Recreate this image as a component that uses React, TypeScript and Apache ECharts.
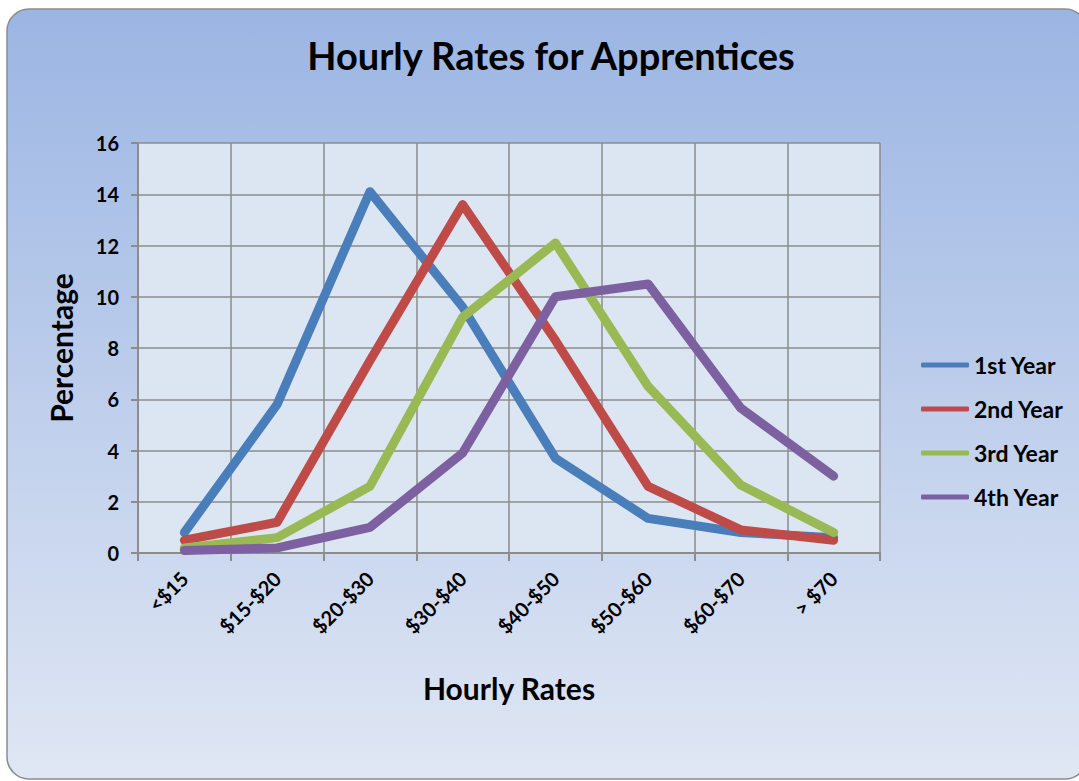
import React, { useEffect, useRef } from "react";
import * as echarts from "echarts";

const categories = ["<$15", "$15-$20", "$20-$30", "$30-$40", "$40-$50", "$50-$60", "$60-$70", "> $70"];
const year1 = [0.8, 5.8, 14.1, 9.6, 3.7, 1.35, 0.8, 0.6];
const year2 = [0.5, 1.2, 7.5, 13.6, 8.3, 2.6, 0.9, 0.5];
const year3 = [0.2, 0.6, 2.6, 9.2, 12.1, 6.5, 2.65, 0.8];
const year4 = [0.1, 0.2, 1.0, 3.9, 10.0, 10.5, 5.65, 3.0];
const seriesNames = ["1st Year", "2nd Year", "3rd Year", "4th Year"];
const seriesColors = ["#4A7EBB", "#BE4B48", "#98B954", "#7D60A0"];
const yTicks = { min: 0, max: 16, interval: 2 };

const FONT = "Lato, 'Open Sans', sans-serif";

export default function App() {
  const ref = useRef<HTMLDivElement>(null);
  useEffect(() => {
    if (!ref.current) return;
    const chart = echarts.init(ref.current, null, { renderer: "svg" });
    const data = [year1, year2, year3, year4];
    chart.setOption({
      animation: false,
      backgroundColor: "#ffffff",
      graphic: [
        {
          type: "rect",
          z: -100,
          silent: true,
          shape: { x: 7, y: 9, width: 1080, height: 770, r: 22 },
          style: {
            fill: new echarts.graphic.LinearGradient(0, 0, 0, 1, [
              { offset: 0, color: "#9BB5E3" },
              { offset: 1, color: "#E0E7F4" },
            ]),
            stroke: "#8C8C8C",
            lineWidth: 1.5,
          },
        },
      ],
      title: {
        text: "Hourly Rates for Apprentices",
        left: 546,
        textAlign: "center",
        top: 31,
        textStyle: { fontFamily: FONT, fontWeight: "bold", fontSize: 38, color: "#000" },
      },
      legend: {
        orient: "vertical",
        left: 916,
        top: 348,
        icon: "roundRect",
        itemWidth: 48,
        itemHeight: 5,
        itemGap: 20,
        data: seriesNames,
        textStyle: { fontFamily: FONT, fontWeight: "bold", fontSize: 23, color: "#000", lineHeight: 24 },
      },
      grid: {
        left: 138,
        right: 199,
        top: 143,
        bottom: 228,
        show: true,
        backgroundColor: "#DCE6F2",
        borderWidth: 0,
      },
      xAxis: {
        type: "category",
        data: categories,
        boundaryGap: true,
        name: "Hourly Rates",
        nameLocation: "middle",
        nameGap: 120,
        nameTextStyle: { fontFamily: FONT, fontWeight: "bold", fontSize: 30, color: "#000" },
        axisLine: { lineStyle: { color: "#8C8C8C", width: 2 } },
        axisTick: { show: true, length: 8, alignWithLabel: false, lineStyle: { color: "#8C8C8C", width: 2 } },
        splitLine: { show: true, lineStyle: { color: "#8C8C8C", width: 1.5 } },
        axisLabel: {
          rotate: 45,
          margin: 22,
          interval: 0,
          fontFamily: FONT,
          fontWeight: "bold",
          fontSize: 20,
          color: "#000",
        },
      },
      yAxis: {
        type: "value",
        min: yTicks.min,
        max: yTicks.max,
        interval: yTicks.interval,
        name: "Percentage",
        nameLocation: "middle",
        nameGap: 62,
        nameTextStyle: { fontFamily: FONT, fontWeight: "bold", fontSize: 30, color: "#000" },
        axisLine: { show: true, lineStyle: { color: "#8C8C8C", width: 2 } },
        axisTick: { show: true, length: 7, lineStyle: { color: "#8C8C8C", width: 2 } },
        splitLine: { show: true, lineStyle: { color: "#8C8C8C", width: 1.5 } },
        axisLabel: {
          margin: 19,
          fontFamily: FONT,
          fontWeight: "bold",
          fontSize: 20,
          color: "#000",
        },
      },
      series: seriesNames.map((name, i) => ({
        name,
        type: "line",
        data: data[i],
        symbol: "none",
        color: seriesColors[i],
        lineStyle: { width: 9, color: seriesColors[i], cap: "round", join: "round" },
      })),
    });
    return () => chart.dispose();
  }, []);
  return (
    <div style={{ position: "fixed", left: 0, top: 0, width: 1079, height: 781 }}>
      <div ref={ref} style={{ width: 1079, height: 781 }} />
    </div>
  );
}
